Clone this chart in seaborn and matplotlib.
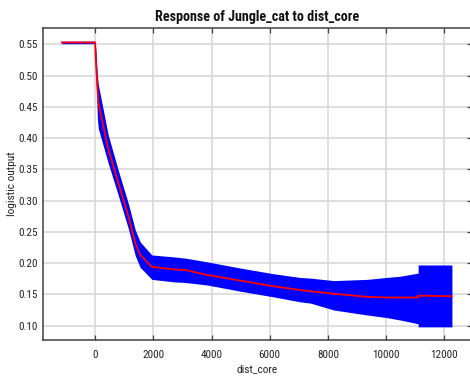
import matplotlib
matplotlib.use("Agg")
import matplotlib.pyplot as plt
import seaborn as sns
import pandas as pd

# Response curve of Jungle_cat to distance from core area
dist_core = [-1150, 0, 30, 80, 113, 450, 800, 1150, 1380, 1550, 1660, 1950,
             2700, 3100, 3850, 5000, 6130, 7050, 7400, 8200, 9350, 10000,
             10480, 11100, 11100, 12260]
mean_output = [0.553, 0.553, 0.520, 0.480, 0.456, 0.383, 0.328, 0.274, 0.232,
               0.213, 0.208, 0.194, 0.190, 0.189, 0.181, 0.172, 0.163, 0.157,
               0.155, 0.151, 0.146, 0.145, 0.145, 0.145, 0.148, 0.147]
upper_output = [0.555, 0.555, 0.540, 0.500, 0.485, 0.405, 0.348, 0.294, 0.253,
                0.234, 0.228, 0.213, 0.210, 0.208, 0.202, 0.192, 0.183, 0.177,
                0.176, 0.172, 0.174, 0.177, 0.179, 0.184, 0.197, 0.197]
lower_output = [0.551, 0.551, 0.500, 0.430, 0.415, 0.360, 0.308, 0.254, 0.212,
                0.193, 0.188, 0.174, 0.170, 0.169, 0.165, 0.155, 0.146, 0.138,
                0.136, 0.125, 0.117, 0.113, 0.109, 0.103, 0.098, 0.098]

x_ticks = [0, 2000, 4000, 6000, 8000, 10000, 12000]
y_ticks = [0.10, 0.15, 0.20, 0.25, 0.30, 0.35, 0.40, 0.45, 0.50, 0.55]

df = pd.DataFrame({"dist_core": dist_core, "mean": mean_output,
                   "upper": upper_output, "lower": lower_output})

sns.set_style("white")
plt.rcParams["font.family"] = ["Roboto Condensed", "DejaVu Sans"]

fig = plt.figure(figsize=(4.70, 3.76), dpi=100)
ax = fig.add_axes([43 / 470, 1 - 340 / 376, (472 - 43) / 470, (340 - 27.7) / 376])

ax.fill_between(df["dist_core"], df["lower"], df["upper"],
                color="#0000ff", linewidth=0, zorder=2)
sns.lineplot(data=df, x="dist_core", y="mean", estimator=None, sort=False,
             color="#ff0000", linewidth=1.3, ax=ax, zorder=3)

ax.set_xlim(-1790, 12950)
ax.set_ylim(0.077, 0.5766)
ax.set_xticks(x_ticks)
ax.set_yticks(y_ticks)
ax.set_xticklabels([str(t) for t in x_ticks])
ax.set_yticklabels([f"{t:.2f}" for t in y_ticks])

ax.grid(True, color="#d6d6d6", linewidth=1.1, zorder=0)
ax.set_axisbelow(True)

for side in ["left", "bottom", "top"]:
    ax.spines[side].set_visible(True)
    ax.spines[side].set_color("#404040")
    ax.spines[side].set_linewidth(1.1)
ax.spines["right"].set_visible(False)

ax.tick_params(axis="both", which="both", direction="in", length=3.5,
               width=0.9, color="#404040", labelsize=8, labelcolor="#222222",
               top=True, right=True, left=False, bottom=True)
ax.tick_params(axis="x", pad=7.5)
ax.tick_params(axis="y", pad=4)

ax.set_xlabel("dist_core", fontsize=8.2, color="#222222", va="center", ha="center")
ax.xaxis.set_label_coords(0.5, -0.093)
ax.set_ylabel("logistic output", fontsize=8.2, color="#222222", va="center", ha="center")
ax.yaxis.set_label_coords(-0.073, 0.5)
ax.set_title("Response of Jungle_cat to dist_core", fontsize=10.2,
             fontweight="bold", color="#111111", pad=5)

fig.savefig("out.png", dpi=100)
